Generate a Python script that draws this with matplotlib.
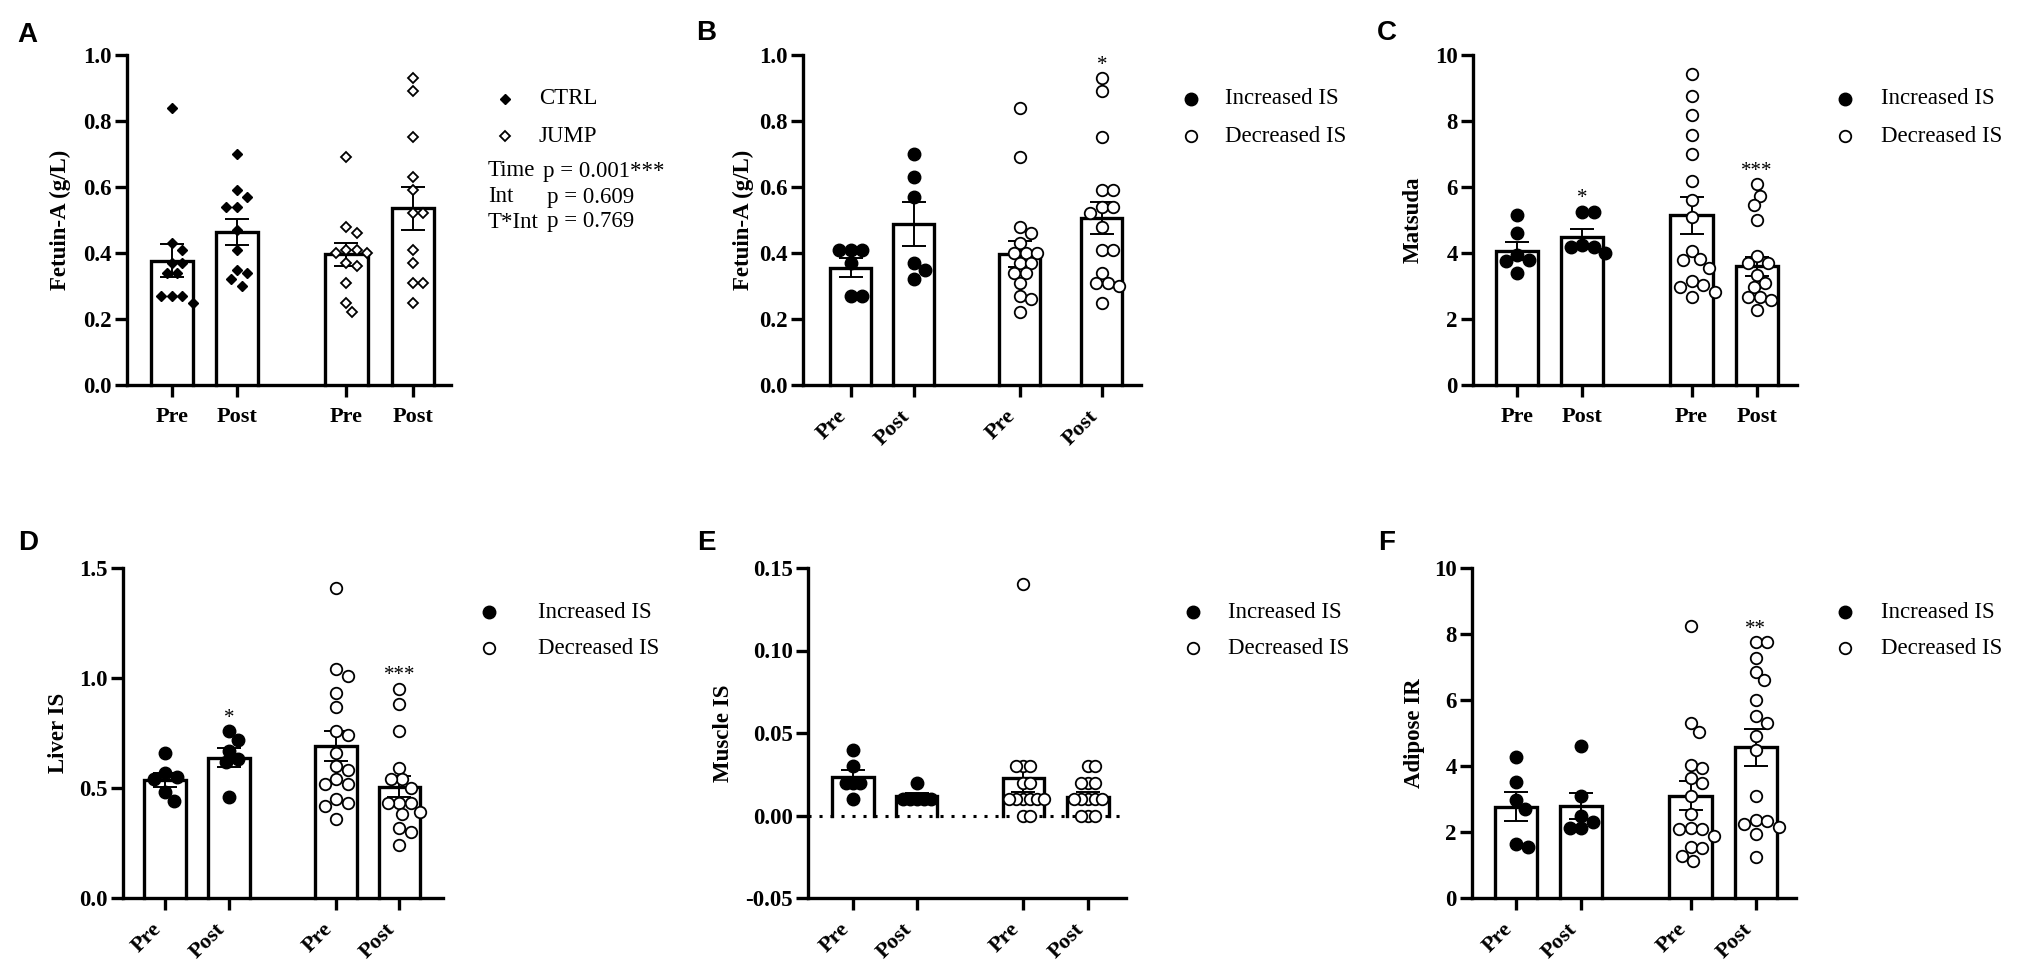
import numpy as np
import matplotlib
matplotlib.use('Agg')
import matplotlib.pyplot as plt
import matplotlib.transforms as mtrans
from matplotlib.lines import Line2D

plt.rcParams['font.family'] = ['Liberation Serif', 'DejaVu Serif']
plt.rcParams['axes.unicode_minus'] = False

W, H, DPI = 2033, 971, 100

tick_names = ['Pre', 'Post', 'Pre', 'Post']

# ---------------- data ----------------
# Panel A  Fetuin-A, CTRL vs JUMP
a_ctrl_pre = [0.84, 0.43, 0.41, 0.37, 0.37, 0.34, 0.34, 0.27, 0.27, 0.27, 0.25]
a_ctrl_post = [0.70, 0.59, 0.57, 0.54, 0.54, 0.47, 0.41, 0.35, 0.34, 0.32, 0.30]
a_jump_pre = [0.69, 0.48, 0.46, 0.41, 0.41, 0.40, 0.40, 0.37, 0.36, 0.31, 0.25, 0.22]
a_jump_post = [0.93, 0.89, 0.75, 0.63, 0.59, 0.52, 0.52, 0.41, 0.37, 0.31, 0.31, 0.25]
a_means = [0.377, 0.463, 0.396, 0.535]
a_sems = [0.049, 0.040, 0.035, 0.066]

# Panel B  Fetuin-A, Increased vs Decreased IS
b_inc_pre = [0.41, 0.41, 0.41, 0.37, 0.27, 0.27]
b_inc_post = [0.70, 0.63, 0.57, 0.37, 0.35, 0.32]
b_dec_pre = [0.84, 0.69, 0.48, 0.46, 0.43, 0.40, 0.40, 0.40, 0.37, 0.37, 0.34, 0.34,
             0.31, 0.27, 0.26, 0.22]
b_dec_post = [0.93, 0.89, 0.75, 0.59, 0.59, 0.54, 0.54, 0.52, 0.48, 0.41, 0.41, 0.34,
              0.31, 0.31, 0.30, 0.25]
b_means = [0.356, 0.488, 0.397, 0.507]
b_sems = [0.028, 0.067, 0.039, 0.048]

# Panel C  Matsuda
c_inc_pre = [5.15, 4.60, 3.95, 3.80, 3.75, 3.40]
c_inc_post = [5.25, 5.25, 4.25, 4.17, 4.17, 4.00]
c_dec_pre = [9.42, 8.75, 8.17, 7.57, 6.99, 6.18, 5.62, 5.10, 4.07, 3.81, 3.78, 3.56,
             3.15, 3.03, 2.98, 2.82, 2.67]
c_dec_post = [6.08, 5.74, 5.44, 5.01, 3.92, 3.71, 3.69, 3.34, 3.10, 2.98, 2.68, 2.68,
              2.58, 2.26]
c_means = [4.06, 4.48, 5.14, 3.60]
c_sems = [0.27, 0.26, 0.55, 0.29]

# Panel D  Liver IS
d_inc_pre = [0.66, 0.57, 0.55, 0.54, 0.48, 0.44]
d_inc_post = [0.76, 0.72, 0.67, 0.63, 0.62, 0.46]
d_dec_pre = [1.41, 1.04, 1.01, 0.93, 0.87, 0.76, 0.74, 0.66, 0.60, 0.58, 0.54, 0.52,
             0.52, 0.45, 0.43, 0.42, 0.36]
d_dec_post = [0.95, 0.88, 0.76, 0.59, 0.54, 0.54, 0.50, 0.43, 0.43, 0.43, 0.39, 0.38,
              0.32, 0.30, 0.24]
d_means = [0.535, 0.638, 0.692, 0.505]
d_sems = [0.031, 0.042, 0.067, 0.048]

# Panel E  Muscle IS
e_inc_pre = [0.04, 0.03, 0.02, 0.02, 0.02, 0.01]
e_inc_post = [0.02, 0.01, 0.01, 0.01, 0.01, 0.01]
e_dec_pre = [0.14, 0.03, 0.03, 0.03, 0.02, 0.02, 0.01, 0.01, 0.01, 0.01, 0.01, 0.01,
             0.00, 0.00]
e_dec_post = [0.03, 0.03, 0.02, 0.02, 0.02, 0.01, 0.01, 0.01, 0.01, 0.01, 0.00, 0.00,
              0.00]
e_means = [0.0233, 0.0117, 0.0225, 0.0115]
e_sems = [0.0045, 0.0017, 0.0085, 0.0025]

# Panel F  Adipose IR
f_inc_pre = [4.27, 3.52, 2.96, 2.69, 1.63, 1.55]
f_inc_post = [4.61, 3.10, 2.49, 2.29, 2.11, 2.11]
f_dec_pre = [8.25, 5.30, 5.02, 4.02, 3.93, 3.65, 3.50, 3.09, 2.56, 2.11, 2.08, 2.08,
             1.87, 1.55, 1.52, 1.28, 1.12]
f_dec_post = [7.77, 7.77, 7.26, 6.85, 6.60, 6.01, 5.50, 5.31, 4.91, 4.48, 3.10, 2.37,
              2.32, 2.24, 2.16, 1.94, 1.25]
f_means = [2.77, 2.78, 3.10, 4.57]
f_sems = [0.44, 0.40, 0.44, 0.56]

legend_ab = ['CTRL', 'JUMP']
legend_is = ['Increased IS', 'Decreased IS']
stats_names = ['Time', 'Int', 'T*Int']
stats_p = ['p = 0.001***', 'p = 0.609', 'p = 0.769']

# ---------------- figure ----------------
fig = plt.figure(figsize=(W / DPI, H / DPI), dpi=DPI)
fig.patch.set_facecolor('white')
# pixel transform: x from left, y from top
pix = mtrans.Affine2D().scale(1.0 / W, -1.0 / H).translate(0, 1) + fig.transFigure

AX_H = 330


def swarm(vals, ppy, ppx, dx, dy):
    """beeswarm offsets (in data units) so points do not overlap more than allowed"""
    vals = np.asarray(vals, float)
    y = vals * ppy
    order = np.argsort(-vals, kind='stable')
    px_l, py_l = [], []
    offs = np.zeros(len(vals))
    step = dx / 4.0
    cands = [0.0]
    for k in range(1, 120):
        cands += [k * step, -k * step]
    for i in order:
        chosen = 0.0
        for c in cands:
            ok = True
            for qx, qy in zip(px_l, py_l):
                if ((c - qx) / dx) ** 2 + ((y[i] - qy) / dy) ** 2 < 0.97:
                    ok = False
                    break
            if ok:
                chosen = c
                break
        offs[i] = chosen
        px_l.append(chosen)
        py_l.append(y[i])
    return offs / ppx


def marker_size(mk, filled):
    if mk == 'D':
        return 5.4 if filled else 5.0
    return 9.0 if filled else 8.3


def draw_panel(p):
    left, top, width = p['left'], p['top'], p['width']
    ax = fig.add_axes([left / W, 1 - (top + AX_H) / H, width / W, AX_H / H])
    x = np.asarray(p['xpos'], float)
    xlim, ylim = p['xlim'], p['ylim']
    ax.set_xlim(*xlim)
    ax.set_ylim(*ylim)
    ppx = width / (xlim[1] - xlim[0])
    ppy = AX_H / (ylim[1] - ylim[0])
    bw = 0.65
    means = p['means']
    # bars: white fill, three-sided black outline
    ax.bar(x, means, width=bw, color='white', edgecolor='none', zorder=1)
    for xi, m in zip(x, means):
        ax.plot([xi - bw / 2, xi - bw / 2, xi + bw / 2, xi + bw / 2], [0, m, m, 0],
                color='black', lw=2.4, solid_joinstyle='miter', zorder=1.2,
                clip_on=False)
    if p.get('zero_line'):
        ax.axhline(0, color='black', lw=2.2, ls=(0, (1, 2.6)), zorder=1.5)
    ax.errorbar(x, means, yerr=p['sems'], fmt='none', ecolor='black', elinewidth=1.4,
                capsize=8.5, capthick=1.4, zorder=2)
    mk = p['marker']
    dx, dy = p.get('sep', (11.5, 11.5))
    if mk == 'D':
        dx, dy = 10.5, 10.5
    for i, vals in enumerate(p['groups']):
        filled = i < 2
        offs = swarm(vals, ppy, ppx, dx, dy)
        ax.plot(x[i] + offs, vals, ls='none', marker=mk, ms=marker_size(mk, filled),
                mfc='black' if filled else 'white', mec='black',
                mew=1.0 if filled else 1.3, zorder=3, clip_on=False)
    for s in ['top', 'right']:
        ax.spines[s].set_visible(False)
    for s in ['left', 'bottom']:
        ax.spines[s].set_linewidth(2.4)
        ax.spines[s].set_capstyle('projecting')
    ax.tick_params(axis='both', direction='out', length=8.5, width=2.4, pad=2.5,
                   colors='black')
    ax.set_yticks(p['yticks'])
    ax.set_yticklabels([p['yfmt'] % t for t in p['yticks']], fontweight='bold',
                       fontsize=16.5)
    ax.set_xticks(x)
    if p['rot']:
        ax.set_xticklabels(tick_names, fontweight='bold', fontsize=16, rotation=45,
                           ha='right', va='top')
        shift = mtrans.ScaledTranslation(9 / DPI, 0, fig.dpi_scale_trans)
        for lbl in ax.get_xticklabels():
            lbl.set_transform(lbl.get_transform() + shift)
        ax.tick_params(axis='x', pad=7)
    else:
        ax.set_xticklabels(tick_names, fontweight='bold', fontsize=16)
        ax.tick_params(axis='x', pad=7)
    ax.set_ylabel(p['ylabel'], fontweight='bold', fontsize=16.5)
    ax.yaxis.set_label_coords((p['ylabel_x'] - left) / width, 0.5)
    ax.yaxis.label.set_va('center')
    for gi, txt, yv in p.get('stars', []):
        ax.annotate(txt, xy=(x[gi], yv), xytext=(0, -8), textcoords='offset points',
                    ha='center', va='baseline', fontsize=15)
    # legend entries
    mx, tx, ys = p['leg_marker_x'], p['leg_text_x'], p['leg_y']
    for j, (lab, yy) in enumerate(zip(p['legend'], ys)):
        filled = j == 0
        fig.add_artist(Line2D([mx], [yy], transform=pix, ls='none', marker=mk,
                              ms=marker_size(mk, filled),
                              mfc='black' if filled else 'white', mec='black',
                              mew=1.0 if filled else 1.3))
        fig.text(tx, yy, lab, transform=pix, fontsize=16.5, ha='left', va='center')
    fig.text(p['letter_xy'][0], p['letter_xy'][1], p['letter'], transform=pix,
             fontsize=20, fontweight='bold', family=['Liberation Sans', 'DejaVu Sans'],
             ha='left', va='baseline')
    return ax


TOP1, TOP2 = 55, 568
panels = [
    dict(letter='A', letter_xy=(17, 42), left=127, top=TOP1, width=324,
         xpos=[0, 1, 2.69, 3.71], xlim=(-0.69, 4.3), ylim=(0, 1.0),
         yticks=[0.0, 0.2, 0.4, 0.6, 0.8, 1.0], yfmt='%.1f', ylabel='Fetuin-A (g/L)',
         ylabel_x=60, groups=[a_ctrl_pre, a_ctrl_post, a_jump_pre, a_jump_post],
         means=a_means, sems=a_sems, marker='D', rot=False, legend=legend_ab,
         leg_marker_x=505, leg_text_x=539, leg_y=[99, 136]),
    dict(letter='B', letter_xy=(696, 40), left=803, top=TOP1, width=338,
         xpos=[0, 1, 2.68, 3.98], xlim=(-0.76, 4.6), ylim=(0, 1.0),
         yticks=[0.0, 0.2, 0.4, 0.6, 0.8, 1.0], yfmt='%.1f', ylabel='Fetuin-A (g/L)',
         ylabel_x=743, groups=[b_inc_pre, b_inc_post, b_dec_pre, b_dec_post],
         means=b_means, sems=b_sems, marker='o', rot=True, legend=legend_is,
         leg_marker_x=1191, leg_text_x=1225, leg_y=[99, 136],
         stars=[(3, '*', 0.987)]),
    dict(letter='C', letter_xy=(1377, 40), left=1473, top=TOP1, width=324,
         xpos=[0, 1, 2.68, 3.68], xlim=(-0.68, 4.3), ylim=(0, 10),
         yticks=[0, 2, 4, 6, 8, 10], yfmt='%d', ylabel='Matsuda',
         ylabel_x=1413, groups=[c_inc_pre, c_inc_post, c_dec_pre, c_dec_post],
         means=c_means, sems=c_sems, marker='o', rot=False, legend=legend_is,
         leg_marker_x=1845, leg_text_x=1881, leg_y=[99, 136],
         stars=[(1, '*', 5.85), (3, '***', 6.66)]),
    dict(letter='D', letter_xy=(18, 550), left=123, top=TOP2, width=320,
         xpos=[0, 1, 2.67, 3.66], xlim=(-0.66, 4.34), ylim=(0, 1.5),
         yticks=[0.0, 0.5, 1.0, 1.5], yfmt='%.1f', ylabel='Liver IS',
         ylabel_x=58, groups=[d_inc_pre, d_inc_post, d_dec_pre, d_dec_post],
         means=d_means, sems=d_sems, marker='o', rot=True, legend=legend_is,
         leg_marker_x=489, leg_text_x=538, leg_y=[612, 648],
         stars=[(1, '*', 0.845), (3, '***', 1.04)]),
    dict(letter='E', letter_xy=(697, 550), left=808, top=TOP2, width=318,
         xpos=[0, 1, 2.68, 3.70], xlim=(-0.71, 4.3), ylim=(-0.05, 0.15),
         yticks=[-0.05, 0.0, 0.05, 0.10, 0.15], yfmt='%.2f', ylabel='Muscle IS',
         ylabel_x=724, groups=[e_inc_pre, e_inc_post, e_dec_pre, e_dec_post],
         means=e_means, sems=e_sems, marker='o', rot=True, legend=legend_is,
         leg_marker_x=1193, leg_text_x=1228, leg_y=[612, 648], zero_line=True,
         sep=(7.0, 11.5)),
    dict(letter='F', letter_xy=(1378, 550), left=1472, top=TOP2, width=324,
         xpos=[0, 1, 2.68, 3.68], xlim=(-0.68, 4.3), ylim=(0, 10),
         yticks=[0, 2, 4, 6, 8, 10], yfmt='%d', ylabel='Adipose IR',
         ylabel_x=1415, groups=[f_inc_pre, f_inc_post, f_dec_pre, f_dec_post],
         means=f_means, sems=f_sems, marker='o', rot=True, legend=legend_is,
         leg_marker_x=1845, leg_text_x=1881, leg_y=[612, 648],
         stars=[(3, '**', 8.34)]),
]

for p in panels:
    draw_panel(p)

# ANOVA statistics text next to panel A
for name, pv, yy, px in zip(stats_names, stats_p, [171, 197, 222], [543, 547, 547]):
    fig.text(488, yy, name, transform=pix, fontsize=16.5, ha='left', va='center')
    fig.text(px, yy, pv, transform=pix, fontsize=16.5, ha='left', va='center')

fig.savefig('out.png', dpi=DPI, facecolor='white')
